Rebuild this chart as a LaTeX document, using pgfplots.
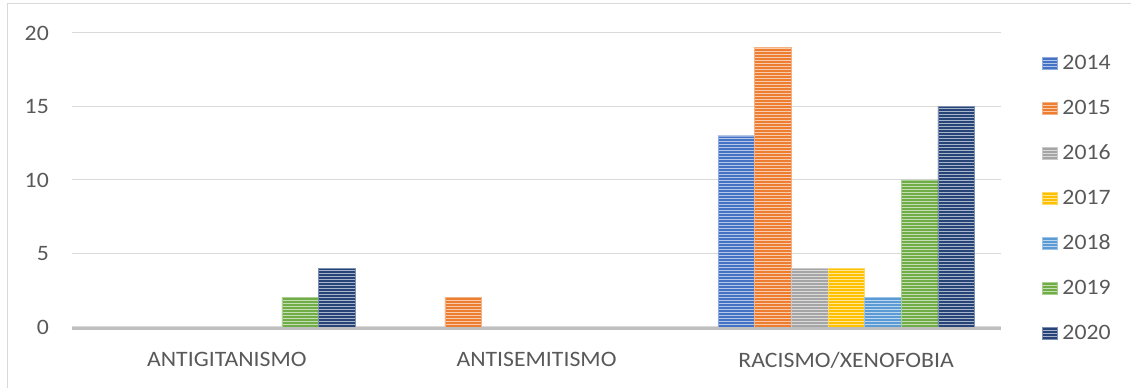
\documentclass[border=0pt]{standalone}
\usepackage{pgfplots}
\pgfplotsset{compat=1.18}
\usepackage{fontspec}
\setmainfont[FakeStretch=1.08]{Carlito}
\usetikzlibrary{patterns}
\pgfdeclarepatternformonly{hstripes}{\pgfpoint{-2bp}{-0.2bp}}{\pgfpoint{602bp}{3.2bp}}{\pgfpoint{600bp}{3bp}}{%
  \pgfpathrectangle{\pgfpoint{-2bp}{0bp}}{\pgfpoint{604bp}{1.4bp}}\pgfusepath{fill}}
\definecolor{c14}{HTML}{4472C4}
\definecolor{c15}{HTML}{ED7D31}
\definecolor{c16}{HTML}{A5A5A5}
\definecolor{c17}{HTML}{FFC000}
\definecolor{c18}{HTML}{5B9BD5}
\definecolor{c19}{HTML}{70AD47}
\definecolor{c20}{HTML}{264478}
\definecolor{txt}{HTML}{595959}
\definecolor{gridc}{HTML}{D9D9D9}
\definecolor{basec}{HTML}{BFBFBF}
\pgfplotsset{stripe/.style={fill=#1, draw=#1!60!white, line width=0.6bp,
  postaction={pattern=hstripes, pattern color=#1!40!white}}}
\begin{document}
\fontsize{22bp}{26bp}\selectfont
\begin{tikzpicture}
\useasboundingbox (0bp,0bp) rectangle (1131bp,388bp);
\draw[gridc, line width=1bp] (7bp,0bp) -- (7bp,384bp) -- (1131bp,384bp);
\begin{axis}[
  at={(72bp,61bp)}, anchor=south west,
  scale only axis, width=929bp, height=294bp,
  clip=false,
  xmin=-0.5, xmax=2.5, ymin=0, ymax=20,
  ybar=0pt, bar width=36.66bp,
  xtick={0,1,2},
  xticklabels={ANTIGITANISMO, ANTISEMITISMO, RACISMO/XENOFOBIA},
  ytick={0,5,10,15,20},
  major tick length=0pt,
  axis line style={draw=none},
  ymajorgrids, major grid style={gridc, line width=1bp},
  /pgf/number format/assume math mode=true,
  tick label style={text=txt, font=\fontsize{22bp}{26bp}\selectfont},
  yticklabel style={inner xsep=0pt, xshift=-23bp},
  xticklabel style={inner ysep=0pt, yshift=-25bp},
  legend style={at={(axis description cs:1.0438,0.9228)}, anchor=north west,
    draw=none, fill=none, inner sep=0pt, row sep=31bp,
    font=\fontsize{22bp}{26bp}\selectfont, text=txt,
    nodes={inner sep=0pt, anchor=base west, text height=14bp, text depth=0pt}},
  legend cell align=left,
  /tikz/every odd column/.append style={column sep=5bp},
  legend image code/.code={\path[#1] (0,1bp) rectangle (15bp,13bp);},
]
% zero values are left out (they draw nothing in the reference)
\addplot[stripe=c14] coordinates {(2,13)};
\addplot[stripe=c15] coordinates {(1,2) (2,19)};
\addplot[stripe=c16] coordinates {(2,4)};
\addplot[stripe=c17] coordinates {(2,4)};
\addplot[stripe=c18] coordinates {(2,2)};
\addplot[stripe=c19] coordinates {(0,2) (2,10)};
\addplot[stripe=c20] coordinates {(0,4) (2,15)};
\legend{2014,2015,2016,2017,2018,2019,2020}
\draw[basec, line width=3bp] ([yshift=-1.2bp]rel axis cs:0,0) -- ([yshift=-1.2bp]rel axis cs:1,0);
\end{axis}
\end{tikzpicture}
\end{document}
